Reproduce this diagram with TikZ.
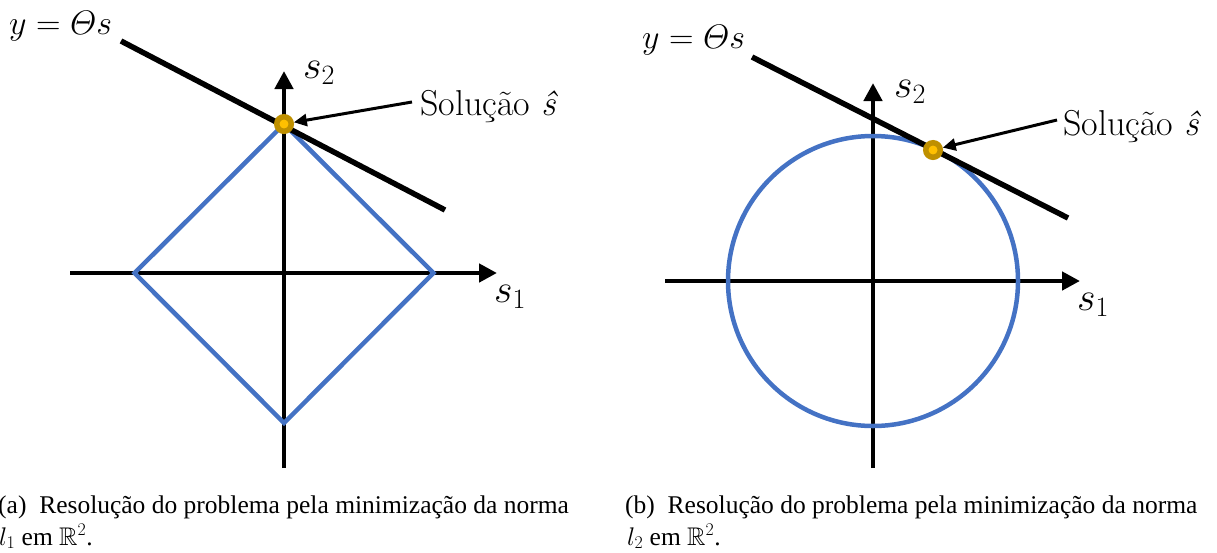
\RequirePackage{fix-cm}
\documentclass[tikz,border=0pt]{standalone}
\usepackage{amsmath,amssymb}
\usepackage{fontspec}
\newfontfamily\capfont{Liberation Serif}
\usetikzlibrary{arrows.meta}
\definecolor{nblue}{HTML}{4472C4}
\definecolor{ringc}{HTML}{BF9000}
\definecolor{ringf}{HTML}{FFC000}
\begin{document}
\begin{tikzpicture}[x=1pt,y=-1pt,
  axis/.style={line width=4.5pt,-{Triangle[length=18pt,width=18pt]}},
  normline/.style={draw=nblue,line width=4.5pt,line join=miter},
  solline/.style={line width=5.5pt},
  pointdot/.style={circle,draw=ringc,fill=ringf,line width=5.5pt,minimum size=14.5pt,inner sep=0pt},
  callout/.style={line width=3pt,-{Triangle[length=13pt,width=12pt]}},
  eqlabel/.style={anchor=base west,inner sep=0pt,font=\fontsize{34}{38}\selectfont},
  axlabel/.style={anchor=base west,inner sep=0pt,font=\fontsize{40}{42}\selectfont},
  sollabel/.style={anchor=base west,inner sep=0pt,font=\fontsize{36}{40}\selectfont},
  caption/.style={anchor=base west,inner sep=0pt,font=\capfont\fontsize{25.5}{28}\selectfont}]
\useasboundingbox (0,0) rectangle (1217,552);

% ---------------- panel (a)
\coordinate (ax1s) at (70,273);
\coordinate (ax1e) at (497,273);
\coordinate (ay1s) at (284,468);
\coordinate (ay1e) at (284,71);
\draw[axis] (ax1s) -- (ax1e);
\draw[axis] (ay1s) -- (ay1e);
\coordinate (dT) at (284,124);
\coordinate (dR) at (433.5,273);
\coordinate (dB) at (284,423);
\coordinate (dL) at (134.5,273);
\draw[normline] (dT) -- (dR) -- (dB) -- (dL) -- cycle;
\coordinate (l1s) at (121,41);
\coordinate (l1e) at (445,210);
\draw[solline] (l1s) -- (l1e);
\node[pointdot] (pa) at (dT) {};
\node[eqlabel] (eqa) at (9,34) {$y=\varTheta s$};
\node[axlabel] (s2a) at (303,78) {$s_2$};
\node[axlabel] (s1a) at (494,302) {$s_1$};
\node[sollabel] (sola) at (420,115) {Solução \textit{ŝ}};
\coordinate (arra) at (412,102);
\draw[callout] (arra) -- (pa);
\node[caption] (capa1) at (-2,513) {(a)\enspace Resolução do problema pela minimização da norma};
\node[caption] (capa2) at (-1,545) {$l_1$ em $\mathbb{R}^2$.};

% ---------------- panel (b)
\coordinate (ax2s) at (665,281);
\coordinate (ax2e) at (1080,281);
\coordinate (ay2s) at (873,468);
\coordinate (ay2e) at (873,83);
\draw[axis] (ax2s) -- (ax2e);
\draw[axis] (ay2s) -- (ay2e);
\coordinate (cc) at (873,281);
\draw[normline] (cc) circle[radius=145];
\coordinate (l2s) at (752,57);
\coordinate (l2e) at (1068,218);
\draw[solline] (l2s) -- (l2e);
\node[pointdot] (pb) at (933,150) {};
\node[eqlabel] (eqb) at (642,48) {$y=\varTheta s$};
\node[axlabel] (s2b) at (894,97) {$s_2$};
\node[axlabel] (s1b) at (1077,310) {$s_1$};
\node[sollabel] (solb) at (1063,135) {Solução \textit{ŝ}};
\coordinate (arrb) at (1057,120);
\draw[callout] (arrb) -- (pb);
\node[caption] (capb1) at (625,513) {(b)\enspace Resolução do problema pela minimização da norma};
\node[caption] (capb2) at (627,545) {$l_2$ em $\mathbb{R}^2$.};
\end{tikzpicture}
\end{document}
